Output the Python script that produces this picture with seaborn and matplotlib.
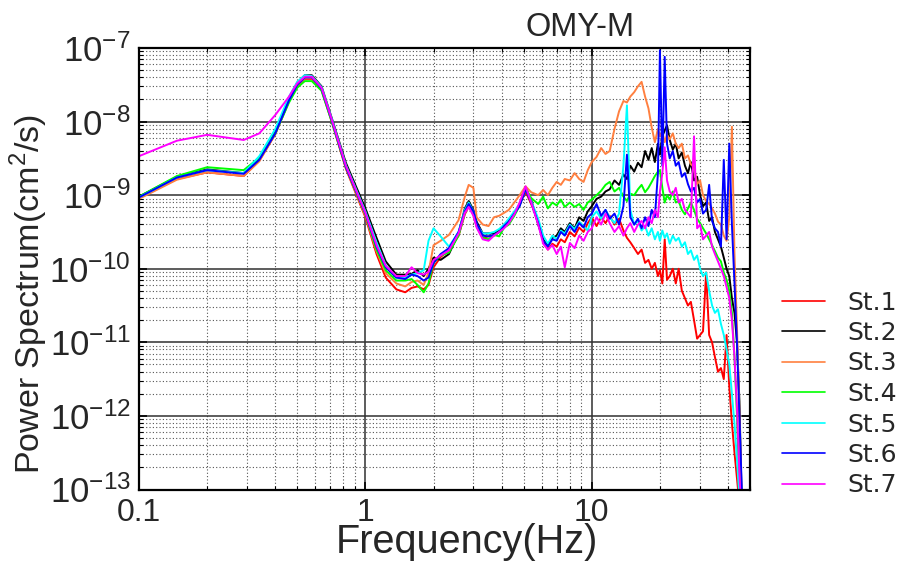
import numpy as np
import pandas as pd
import matplotlib
matplotlib.use("Agg")
import matplotlib.pyplot as plt
import seaborn as sns
from matplotlib.ticker import FixedLocator, FixedFormatter, LogLocator, NullFormatter

# ---------------- data (log10 of power spectrum, cm^2/s) ----------------
freq = [0.10, 0.147, 0.20, 0.29, 0.34, 0.40, 0.46, 0.50, 0.54, 0.58,
        0.64, 0.71, 0.82, 1.00, 1.12, 1.23, 1.37, 1.50, 1.60, 1.70,
        1.81, 1.90, 2.00, 2.15, 2.34, 2.58, 2.75, 2.86, 3.00, 3.10,
        3.30, 3.50, 3.70, 3.90, 4.10, 4.30, 4.55, 4.80, 5.10, 5.40,
        5.8, 6.1, 6.4, 6.7, 7.0, 7.3, 7.6, 8.0, 8.4, 8.8,
        9.2, 9.6, 10.0, 10.5, 11.0, 11.5, 12.0, 12.6, 13.2, 13.8,
        14.3, 14.8, 15.4, 16.0, 16.6, 17.2, 17.8, 18.4, 19.0, 19.6,
        20.0, 20.5, 21.0, 21.5, 22.1, 22.8, 23.5, 24.2, 25.0, 25.8,
        26.6, 27.4, 28.3, 29.2, 30.1, 31.0, 32.0, 33.0, 34.0, 35.0,
        36.1, 37.2, 38.3, 39.4, 40.5, 41.6, 42.7, 43.8, 44.9, 46.0,
        47.0, 48.0]

st1 = [-9.04, -8.78, -8.69, -8.74, -8.53, -8.17, -7.72, -7.51, -7.42, -7.42,
       -7.57, -8.00, -8.64, -9.30, -9.80, -10.12, -10.28, -10.32, -10.26, -10.24,
       -10.28, -10.22, -9.98, -9.84, -9.75, -9.55, -9.26, -9.15, -9.26, -9.42,
       -9.58, -9.56, -9.55, -9.50, -9.44, -9.36, -9.26, -9.12, -8.95, -9.12,
       -9.35, -9.62, -9.74, -9.66, -9.70, -9.60, -9.64, -9.50, -9.56, -9.44,
       -9.50, -9.38, -9.30, -9.42, -9.30, -9.38, -9.28, -9.40, -9.32, -9.48,
       -9.58, -9.64, -9.72, -9.80, -9.74, -9.92, -9.88, -10.00, -9.92, -10.10,
       -10.02, -10.20, -9.60, -10.15, -10.10, -10.00, -10.20, -10.00, -10.30, -10.40,
       -10.50, -10.45, -10.70, -10.95, -10.90, -10.85, -10.05, -10.90, -11.00, -11.20,
       -11.40, -11.35, -11.50, -10.90, -11.60, -12.10, -12.50, -12.85, -13.20, -13.50,
       -13.70, -13.80]

st2 = [-9.02, -8.75, -8.65, -8.70, -8.51, -8.14, -7.69, -7.47, -7.37, -7.37,
       -7.52, -7.95, -8.56, -9.18, -9.58, -9.90, -10.08, -10.08, -10.07, -10.02,
       -10.10, -10.00, -9.85, -9.88, -9.80, -9.52, -9.18, -9.08, -9.20, -9.36,
       -9.52, -9.52, -9.52, -9.48, -9.40, -9.34, -9.24, -9.14, -8.90, -9.06,
       -9.40, -9.60, -9.68, -9.58, -9.55, -9.45, -9.50, -9.38, -9.45, -9.30,
       -9.35, -9.22, -9.15, -9.05, -9.02, -8.95, -8.92, -8.80, -8.86, -8.72,
       -8.78, -8.60, -8.68, -8.56, -8.62, -8.40, -8.52, -8.36, -8.55, -8.30,
       -8.45, -8.20, -8.12, -8.05, -8.25, -8.38, -8.30, -8.50, -8.42, -8.60,
       -8.70, -8.55, -8.80, -8.75, -9.00, -9.15, -9.10, -9.35, -9.30, -9.50,
       -9.60, -9.70, -9.85, -10.00, -10.10, -10.40, -10.60, -11.00, -11.80, -13.20,
       -13.60, -13.80]

st3 = [-9.05, -8.79, -8.69, -8.74, -8.54, -8.17, -7.72, -7.50, -7.41, -7.41,
       -7.56, -7.99, -8.63, -9.28, -9.76, -10.06, -10.20, -10.24, -10.18, -10.16,
       -10.22, -10.05, -9.68, -9.62, -9.54, -9.34, -9.02, -8.86, -8.90, -9.30,
       -9.40, -9.42, -9.30, -9.28, -9.24, -9.20, -9.10, -9.00, -8.88, -8.96,
       -9.00, -8.93, -9.00, -8.90, -8.82, -8.86, -8.78, -8.80, -8.70, -8.78,
       -8.82, -8.66, -8.55, -8.48, -8.36, -8.44, -8.40, -8.10, -7.86, -7.72,
       -7.74, -7.66, -7.60, -7.52, -7.46, -7.66, -7.82, -8.08, -8.28, -8.10,
       -8.20, -8.14, -8.28, -8.18, -8.24, -8.16, -8.30, -8.36, -8.30, -8.50,
       -8.46, -8.58, -8.62, -8.85, -8.80, -9.00, -9.08, -9.12, -9.18, -9.25,
       -9.36, -9.40, -9.55, -9.62, -9.30, -8.07, -9.80, -10.80, -12.00, -13.30,
       -13.60, -13.80]

st4 = [-9.02, -8.74, -8.62, -8.66, -8.49, -8.16, -7.74, -7.54, -7.45, -7.45,
       -7.58, -8.00, -8.62, -9.26, -9.74, -10.02, -10.16, -10.16, -10.14, -10.22,
       -10.32, -10.20, -9.92, -9.82, -9.78, -9.55, -9.24, -9.14, -9.26, -9.42,
       -9.58, -9.60, -9.54, -9.56, -9.44, -9.40, -9.28, -9.14, -8.90, -9.04,
       -9.12, -9.02, -9.18, -9.10, -9.14, -9.06, -9.16, -9.10, -9.16, -9.12,
       -9.20, -9.10, -9.06, -9.00, -8.94, -8.86, -8.82, -8.95, -8.90, -9.02,
       -9.08, -8.98, -9.00, -8.92, -8.86, -8.96, -8.90, -8.82, -8.74, -8.68,
       -8.66, -8.90, -9.10, -9.00, -9.06, -8.95, -9.10, -9.08, -9.20, -9.26,
       -9.18, -9.10, -9.20, -9.32, -9.38, -9.45, -9.52, -9.60, -9.68, -9.76,
       -9.85, -9.90, -10.05, -10.15, -10.30, -10.60, -11.20, -12.00, -13.00, -13.50,
       -13.70, -13.80]

st5 = [-9.03, -8.76, -8.66, -8.70, -8.47, -8.10, -7.66, -7.46, -7.37, -7.38,
       -7.53, -7.96, -8.59, -9.22, -9.64, -9.95, -10.12, -10.12, -10.08, -10.06,
       -10.02, -9.62, -9.45, -9.56, -9.70, -9.50, -9.20, -9.10, -9.22, -9.40,
       -9.52, -9.52, -9.50, -9.46, -9.40, -9.32, -9.22, -9.12, -8.92, -9.08,
       -9.32, -9.55, -9.66, -9.55, -9.60, -9.48, -9.52, -9.40, -9.46, -9.36,
       -9.42, -9.48, -9.30, -9.22, -9.32, -9.20, -9.30, -9.38, -9.25, -8.60,
       -7.78, -9.20, -9.40, -9.35, -9.48, -9.42, -9.55, -9.45, -9.60, -9.50,
       -9.62, -9.48, -9.58, -9.52, -9.66, -9.55, -9.62, -9.58, -9.70, -9.64,
       -9.80, -9.75, -9.88, -9.82, -10.00, -10.10, -10.05, -10.30, -10.50, -10.60,
       -10.55, -10.75, -10.90, -11.10, -11.30, -11.70, -12.10, -12.60, -13.10, -13.50,
       -13.70, -13.80]

st6 = [-9.03, -8.76, -8.66, -8.71, -8.52, -8.16, -7.71, -7.50, -7.40, -7.40,
       -7.55, -7.98, -8.62, -9.25, -9.70, -9.98, -10.12, -10.14, -10.08, -10.10,
       -10.16, -10.12, -9.92, -9.80, -9.72, -9.50, -9.22, -9.12, -9.22, -9.38,
       -9.55, -9.56, -9.54, -9.50, -9.42, -9.36, -9.25, -9.15, -8.92, -9.10,
       -9.38, -9.62, -9.70, -9.60, -9.62, -9.50, -9.55, -9.42, -9.50, -9.38,
       -9.44, -9.30, -9.25, -9.12, -9.28, -9.20, -9.32, -9.25, -9.40, -9.15,
       -8.45, -9.30, -9.40, -9.32, -9.45, -9.30, -9.42, -9.20, -9.30, -8.70,
       -7.03, -8.60, -7.12, -8.30, -8.50, -8.40, -8.60, -8.55, -8.75, -8.70,
       -8.85, -8.95, -8.90, -9.10, -9.05, -9.25, -9.20, -8.86, -9.35, -9.45,
       -9.50, -9.70, -8.52, -9.60, -8.30, -9.40, -10.20, -11.00, -12.00, -13.00,
       -13.50, -13.80]

st7 = [-8.47, -8.26, -8.18, -8.25, -8.16, -7.91, -7.66, -7.48, -7.39, -7.39,
       -7.54, -7.97, -8.60, -9.24, -9.68, -9.96, -10.10, -10.10, -9.98, -10.06,
       -10.08, -10.04, -9.88, -9.82, -9.75, -9.52, -9.24, -9.16, -9.28, -9.44,
       -9.60, -9.62, -9.55, -9.50, -9.45, -9.38, -9.26, -9.10, -8.88, -9.10,
       -9.40, -9.66, -9.74, -9.68, -9.80, -9.70, -9.98, -9.65, -9.72, -9.55,
       -9.62, -9.50, -9.45, -9.30, -9.40, -9.25, -9.38, -9.50, -9.42, -9.55,
       -9.45, -9.38, -9.50, -9.40, -9.35, -9.45, -9.30, -9.38, -9.20, -9.30,
       -8.95, -8.70, -8.35, -8.80, -8.95, -9.00, -8.90, -9.10, -9.05, -9.20,
       -9.25, -9.30, -8.20, -9.45, -9.40, -9.60, -9.55, -9.50, -9.70, -9.80,
       -9.90, -10.00, -10.10, -10.25, -10.40, -10.70, -11.20, -11.90, -12.80, -13.40,
       -13.70, -13.80]

stations = ["St.1", "St.2", "St.3", "St.4", "St.5", "St.6", "St.7"]
series = [st1, st2, st3, st4, st5, st6, st7]
colors = ["#ff0000", "#000000", "#ff8040", "#00ff00", "#00ffff", "#0000ff", "#ff00ff"]

x_ticks = [0.1, 1, 10]
x_ticklabels = ["0.1", "1", "10"]
y_exps = [-13, -12, -11, -10, -9, -8, -7]

# ---------------- build long-form table ----------------
rows = []
for name, vals in zip(stations, series):
    for f, v in zip(freq, vals):
        rows.append((name, f, 10.0 ** v))
df = pd.DataFrame(rows, columns=["Station", "Frequency", "Power"])

# ---------------- plotting ----------------
sns.set_style("ticks")
plt.rcParams["font.family"] = ["Liberation Sans", "DejaVu Sans"]
plt.rcParams["mathtext.fontset"] = "custom"
plt.rcParams["mathtext.rm"] = "Liberation Sans"

fig = plt.figure(figsize=(8.99, 5.71), dpi=100)
W, H = 899, 571
L, R, T, B = 139, 750, 48, 489.5
ax = fig.add_axes([L / W, 1 - B / H, (R - L) / W, (B - T) / H])
ax.set_xscale("log")
ax.set_yscale("log")

sns.lineplot(data=df, x="Frequency", y="Power", hue="Station",
             hue_order=stations, palette=colors, estimator=None, sort=False,
             linewidth=1.4, ax=ax, legend=True)

ax.set_xlim(0.1, 50)
ax.set_ylim(1e-13, 1e-7)

ax.xaxis.set_major_locator(FixedLocator(x_ticks))
ax.xaxis.set_major_formatter(FixedFormatter(x_ticklabels))
ax.xaxis.set_minor_locator(LogLocator(base=10, subs=np.arange(2, 10), numticks=20))
ax.xaxis.set_minor_formatter(NullFormatter())
yt = [10.0 ** e for e in y_exps]
ax.yaxis.set_major_locator(FixedLocator(yt))
ax.yaxis.set_major_formatter(FixedFormatter([r"$\mathregular{10^{%d}}$" % e for e in y_exps]))
ax.yaxis.set_minor_locator(LogLocator(base=10, subs=np.arange(2, 10), numticks=20))
ax.yaxis.set_minor_formatter(NullFormatter())

ax.grid(True, which="major", color="#303030", linewidth=1.1, linestyle="-")
ax.grid(True, which="minor", color="#555555", linewidth=0.8, linestyle=(0, (1, 2)))
ax.set_axisbelow(True)

for s in ax.spines.values():
    s.set_visible(True)
    s.set_linewidth(1.6)
    s.set_color("black")
ax.tick_params(which="both", direction="in", top=True, right=True, color="black")
ax.tick_params(which="major", length=6, width=1.2, labelsize=25, pad=6)
ax.tick_params(axis="x", which="major", labelsize=23, pad=6)
ax.tick_params(which="minor", length=3, width=0.8)

ax.set_xlabel("Frequency(Hz)", fontsize=28.5)
ax.set_ylabel("Power Spectrum(cm$^2$/s)", fontsize=24.5)
ax.xaxis.set_label_coords((467 - L) / (R - L), -(523 - B) / (B - T))
ax.yaxis.set_label_coords((50 - L) / (R - L), (B - 294) / (B - T))

fig.text(580 / W, 1 - 27 / H, "OMY-M", fontsize=23.5, ha="center", va="center")

handles, labels = ax.get_legend_handles_labels()
for h in handles:
    h.set_linewidth(1.2)
ax.legend(handles, labels, loc="center left", bbox_to_anchor=(764 / W, 1 - 394 / H),
          bbox_transform=fig.transFigure, frameon=False,
          prop={"family": "DejaVu Sans", "size": 18}, handlelength=1.75,
          handletextpad=0.9, labelspacing=0.26, borderpad=0.2)

fig.savefig("out.png", dpi=100)
